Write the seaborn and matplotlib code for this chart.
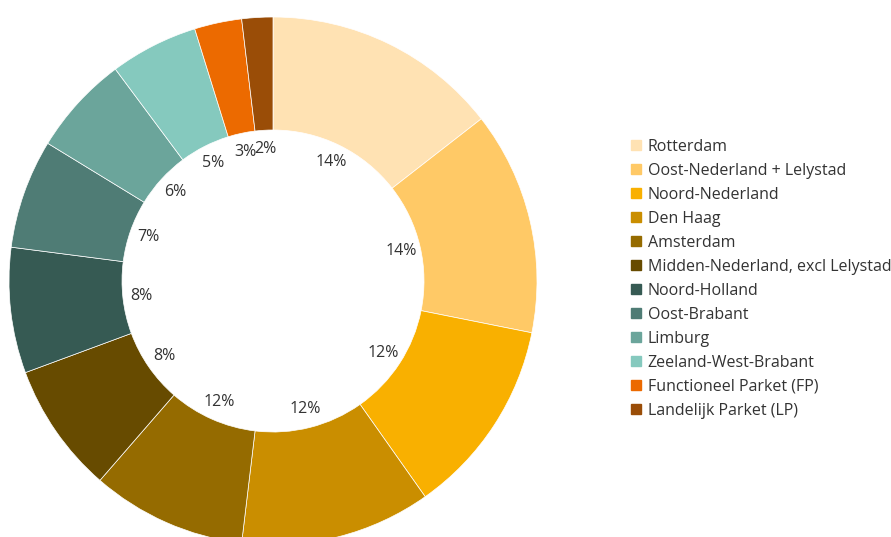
import matplotlib
matplotlib.use("Agg")
import matplotlib.pyplot as plt
import seaborn as sns
from matplotlib.lines import Line2D

# ---- data ----
regions = [
    "Rotterdam",
    "Oost-Nederland + Lelystad",
    "Noord-Nederland",
    "Den Haag",
    "Amsterdam",
    "Midden-Nederland, excl Lelystad",
    "Noord-Holland",
    "Oost-Brabant",
    "Limburg",
    "Zeeland-West-Brabant",
    "Functioneel Parket (FP)",
    "Landelijk Parket (LP)",
]
shares = [14.5, 13.7, 12.1, 11.7, 9.5, 8.0, 7.7, 6.7, 6.1, 5.4, 2.9, 1.9]
pct_labels = ["14%", "14%", "12%", "12%", "12%", "8%", "8%", "7%", "6%", "5%", "3%", "2%"]
colors = ["#FFE2B3", "#FFC966", "#F9B000", "#CA8E00", "#956B00", "#674B00",
          "#365A53", "#4F7C75", "#6BA59B", "#85C9BE", "#EC6A00", "#9A4D07"]

sns.set_theme(style="white")
plt.rcParams["font.family"] = ["Open Sans", "DejaVu Sans"]
palette = sns.color_palette(colors)

W, H = 891, 537
fig = plt.figure(figsize=(W / 100, H / 100), dpi=100)

cx, cy, R = 273, 281, 264
ax = fig.add_axes([(cx - R) / W, (H - cy - R) / H, 2 * R / W, 2 * R / H])
wedges, texts = ax.pie(
    shares,
    colors=palette,
    startangle=90,
    counterclock=False,
    radius=1.0,
    labels=pct_labels,
    labeldistance=0.5,
    wedgeprops=dict(width=1 - 151 / 264, edgecolor="white", linewidth=0.5),
    textprops=dict(fontsize=11.5, color="#333333"),
)
for t in texts:
    t.set_horizontalalignment("center")
    t.set_verticalalignment("center")
ax.set_xlim(-1, 1)
ax.set_ylim(-1, 1)
ax.set_aspect("equal")
ax.axis("off")

handles = [Line2D([0], [0], marker="s", linestyle="none", markersize=7.5,
                  markerfacecolor=c, markeredgecolor=c) for c in palette]
leg = fig.legend(
    handles, regions,
    loc="upper left",
    bbox_to_anchor=(630 / W, 1 - 139 / H),
    frameon=False,
    fontsize=11.5,
    handlelength=0.7,
    handletextpad=0.4,
    labelspacing=0.5,
    borderaxespad=0,
    borderpad=0,
)
for t in leg.get_texts():
    t.set_color("#333333")

fig.savefig("out.png", dpi=100)
